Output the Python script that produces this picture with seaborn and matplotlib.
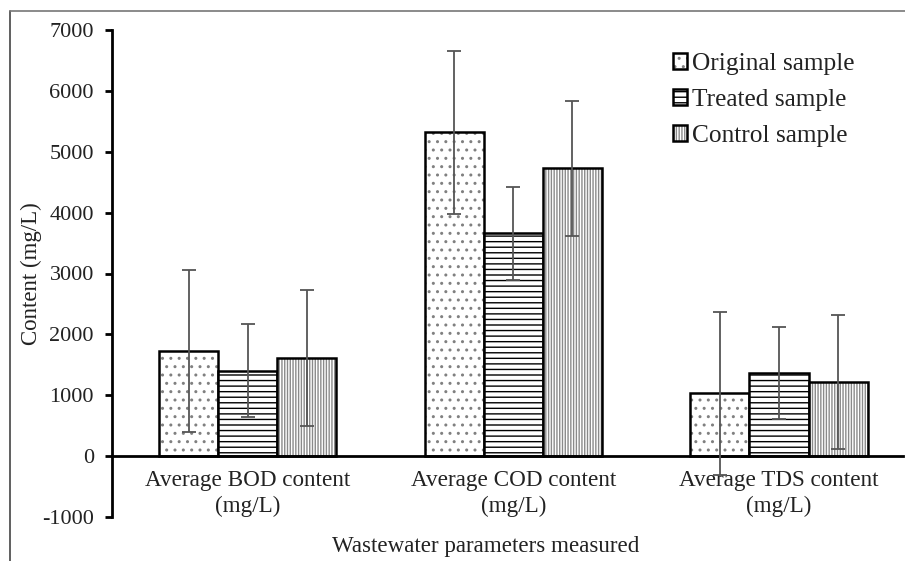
import numpy as np
import pandas as pd
import seaborn as sns
import matplotlib
matplotlib.use("Agg")
import matplotlib.pyplot as plt
from matplotlib.lines import Line2D

# ---- data ----
parameters = ["Average BOD content\n(mg/L)", "Average COD content\n(mg/L)", "Average TDS content\n(mg/L)"]
samples = ["Original sample", "Treated sample", "Control sample"]
original_mean = [1725, 5320, 1035]
original_err = [1335, 1340, 1340]
treated_mean = [1400, 3660, 1365]
treated_err = [765, 760, 755]
control_mean = [1610, 4730, 1215]
control_err = [1115, 1110, 1100]
yticks = [-1000, 0, 1000, 2000, 3000, 4000, 5000, 6000, 7000]

means = [original_mean, treated_mean, control_mean]
errs = [original_err, treated_err, control_err]

rows = []
for s, m in zip(samples, means):
    for p, v in zip(parameters, m):
        rows.append({"parameter": p, "sample": s, "value": v})
df = pd.DataFrame(rows)

sns.set_theme(style="white")
plt.rcParams["font.family"] = ["Liberation Serif", "DejaVu Serif"]
plt.rcParams["hatch.linewidth"] = 1.0

fig = plt.figure(figsize=(9.05, 5.61), dpi=100)
W, H = 905, 561
ax = fig.add_axes([112 / W, 1 - 517 / H, (903 - 112) / W, (517 - 30) / H])

sns.barplot(data=df, x="parameter", y="value", hue="sample", hue_order=samples,
            order=parameters, palette=["white"] * 3, width=2 / 3, errorbar=None,
            edgecolor="black", linewidth=1.8, legend=False, ax=ax, saturation=1)

hatches = ["..", "---", "||||||"]
hatch_colors = ["#808080", "#000000", "#8a8a8a"]
for cont, h, hc, err, m in zip(ax.containers, hatches, hatch_colors, errs, means):
    xs = []
    for bar in cont:
        bar.set_hatch(h)
        bar._hatch_color = matplotlib.colors.to_rgba(hc)
        xs.append(bar.get_x() + bar.get_width() / 2)
    ax.errorbar(xs, m, yerr=err, fmt="none", ecolor="#555555", elinewidth=1.3,
                capsize=5, capthick=1.3, zorder=5)

ax.set_xlim(-0.512, 2.467)
ax.set_ylim(-1000, 7000)
ax.set_yticks(yticks)
ax.set_yticklabels([str(t) for t in yticks])

for side in ["top", "right"]:
    ax.spines[side].set_visible(False)
ax.spines["bottom"].set_position(("data", 0))
ax.spines["bottom"].set_linewidth(2)
ax.spines["bottom"].set_color("black")
ax.spines["left"].set_linewidth(2)
ax.spines["left"].set_color("black")

ax.tick_params(axis="y", direction="out", length=5, width=2, color="black",
               labelsize=16, pad=8, left=True, labelcolor="#222222")
ax.tick_params(axis="x", length=0, labelsize=16.7, pad=10, labelcolor="#222222")
for lbl in ax.get_xticklabels():
    lbl.set_linespacing(1.3)

ax.set_xlabel("Wastewater parameters measured", fontsize=16.6, color="#222222")
ax.xaxis.set_label_coords(0.473, -0.038)
ax.set_ylabel("Content (mg/L)", fontsize=16.5, color="#222222")
ax.yaxis.set_label_coords(-0.088, 0.5)

leg = ax.legend(ax.containers, samples, loc="upper left",
                bbox_to_anchor=(673 / W, 1 - 53 / H), bbox_transform=fig.transFigure,
                frameon=False, fontsize=18.3, handlelength=0.55, handleheight=0.55,
                handletextpad=0.2, labelspacing=0.55, borderpad=0, borderaxespad=0)
for t in leg.get_texts():
    t.set_color("#222222")

# figure border (left and top lines)
fig.add_artist(Line2D([10 / W, 10 / W], [0, 1 - 11 / H], transform=fig.transFigure,
                      color="#444444", linewidth=1.2))
fig.add_artist(Line2D([10 / W, 1], [1 - 11 / H, 1 - 11 / H], transform=fig.transFigure,
                      color="#777777", linewidth=1.2))

fig.savefig("out.png", dpi=100)
